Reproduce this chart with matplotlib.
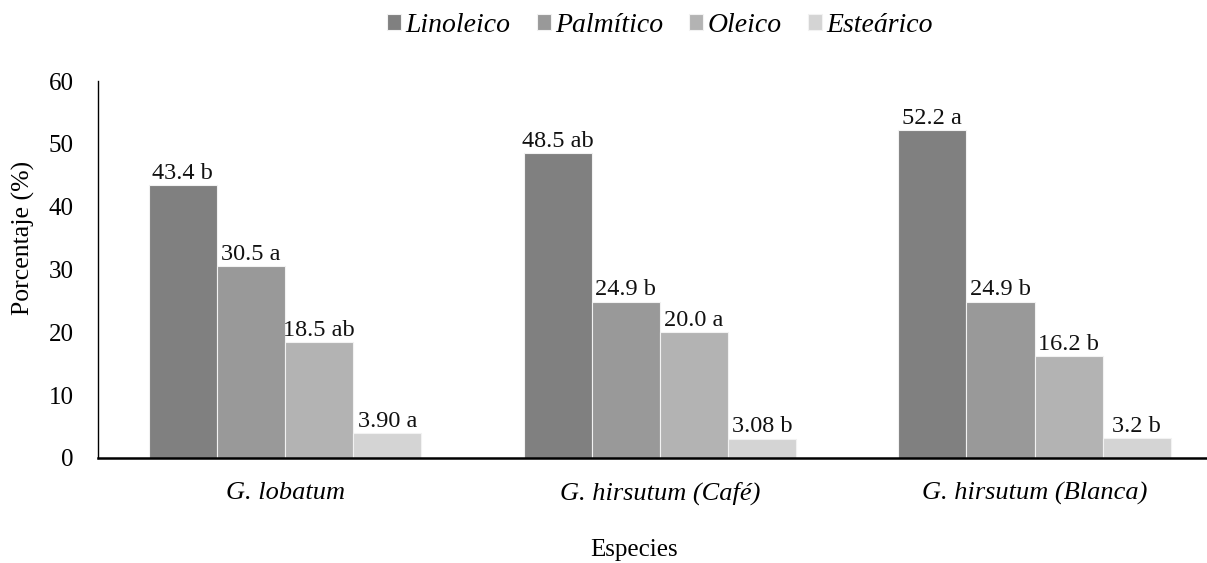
import matplotlib
matplotlib.use("Agg")
import matplotlib.pyplot as plt
import numpy as np

species = ["G. lobatum", "G. hirsutum (Café)", "G. hirsutum (Blanca)"]
acids = ["Linoleico", "Palmítico", "Oleico", "Esteárico"]
linoleico = [43.4, 48.5, 52.2]
palmitico = [30.5, 24.9, 24.9]
oleico = [18.5, 20.0, 16.2]
estearico = [3.90, 3.08, 3.2]
letters_linoleico = ["b", "ab", "a"]
letters_palmitico = ["a", "b", "b"]
letters_oleico = ["ab", "a", "b"]
letters_estearico = ["a", "b", "b"]
value_text = {
    "Linoleico": ["43.4", "48.5", "52.2"],
    "Palmítico": ["30.5", "24.9", "24.9"],
    "Oleico": ["18.5", "20.0", "16.2"],
    "Esteárico": ["3.90", "3.08", "3.2"],
}
y_ticks = [0, 10, 20, 30, 40, 50, 60]

series = [linoleico, palmitico, oleico, estearico]
letters = [letters_linoleico, letters_palmitico, letters_oleico, letters_estearico]
colors = ["#808080", "#999999", "#b3b3b3", "#d4d4d4"]

plt.rcParams["font.family"] = ["Liberation Serif", "DejaVu Serif"]

W, H = 1207, 563
fig = plt.figure(figsize=(W / 100, H / 100), dpi=100)
ax_left, ax_right = 97.6, 1222.0
ax_top, ax_bottom = 81.0, 458.0
ax = fig.add_axes([ax_left / W, 1 - ax_bottom / H,
                   (ax_right - ax_left) / W, (ax_bottom - ax_top) / H])

x = np.arange(len(species))
n = len(series)
bw = 0.1818
for i, (vals, labs, col, name) in enumerate(zip(series, letters, colors, acids)):
    pos = x + (i - (n - 1) / 2) * bw
    bars = ax.bar(pos, vals, width=bw, color=col, edgecolor="#f2f2f2",
                  linewidth=0.8, label=name, zorder=2)
    for b, v, txt, lab in zip(bars, vals, value_text[name], labs):
        ax.annotate(f"{txt} {lab}", (b.get_x() + b.get_width() / 2, v),
                    xytext=(0, 4.5), textcoords="offset points",
                    ha="center", va="baseline", fontsize=17.5, color="#111111")

ax.set_xlim(-0.5, len(species) - 0.5)
ax.set_ylim(0, 60)
ax.set_yticks(y_ticks)
ax.tick_params(axis="y", length=0, labelsize=18, pad=17)
ax.set_xticks(x)
ax.set_xticklabels(species, fontstyle="italic", fontsize=19)
ax.tick_params(axis="x", length=0, pad=17)

for s in ["top", "right"]:
    ax.spines[s].set_visible(False)
ax.spines["left"].set_linewidth(1.0)
ax.spines["bottom"].set_linewidth(1.8)
ax.spines["left"].set_color("black")
ax.spines["bottom"].set_color("black")

fig.text(23.5 / W, 1 - 238 / H, "Porcentaje (%)", rotation=90,
         ha="center", va="center", fontsize=18.5)
fig.text(634 / W, 1 - 550 / H, "Especies", ha="center", va="center", fontsize=18)

leg = ax.legend(loc="center", bbox_to_anchor=(0.5, (ax_bottom - 25) / (ax_bottom - ax_top)),
                ncol=4, frameon=False, prop={"style": "italic", "size": 20},
                handlelength=0.5, handleheight=0.5, handletextpad=0.15,
                columnspacing=0.95)

fig.savefig("out.png", dpi=100, facecolor="white")
